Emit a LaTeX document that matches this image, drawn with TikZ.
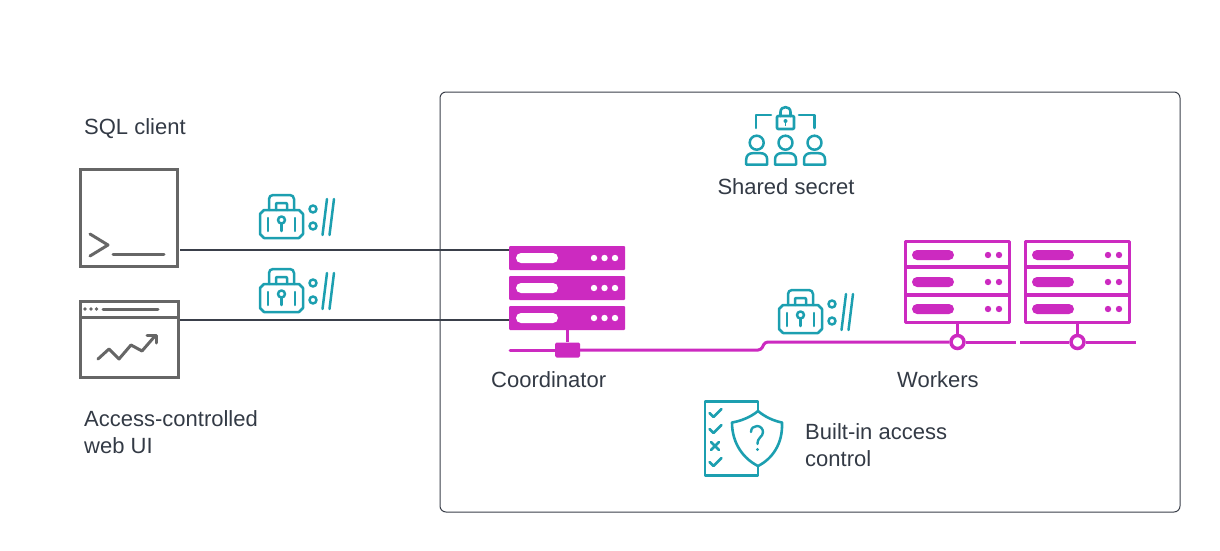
\documentclass[tikz,border=0pt]{standalone}
\usepackage{fontspec}
\setmainfont{Liberation Sans}
\usetikzlibrary{positioning,calc}
\definecolor{tealicon}{HTML}{1C9FB0}
\definecolor{magentaserver}{HTML}{CC2AC0}
\definecolor{greyicon}{HTML}{666666}
\definecolor{darkline}{HTML}{3A3F4A}
\definecolor{labeltext}{HTML}{333A45}

\tikzset{
lockline/.style={draw=tealicon,line width=2.5pt,line cap=round,line join=round},
pics/wirelock/.style={code={
\draw[lockline] (4,15) -- (39,15) -- (43,19) -- (43,39) -- (39,43) -- (4,43) -- (0,39) -- (0,19) -- cycle;
\draw[lockline,rounded corners=4pt] (9,15) -- (9,0) -- (34,0) -- (34,15);
\draw[lockline,rounded corners=1pt] (16,15) -- (16,8) -- (27,8) -- (27,15);
\draw[lockline] (8,23) -- (8,36);
\draw[lockline] (35,23) -- (35,36);
\draw[lockline] (21.5,25) circle (3.5);
\draw[lockline] (21.5,28.5) -- (21.5,36);
\draw[lockline] (53,14) circle (3.5);
\draw[lockline] (53,31) circle (3.5);
\draw[lockline] (62.5,40) -- (67,4);
\draw[lockline] (69.5,40) -- (74,4);
}},
pics/personicon/.style={code={
\draw[lockline] (0,0) circle (7);
\draw[lockline] (-10.5,22) -- (-10.5,17) .. controls (-10.5,12.5) and (-7.5,10.5) .. (-4,10.5) -- (4,10.5) .. controls (7.5,10.5) and (10.5,12.5) .. (10.5,17) -- (10.5,22) -- cycle;
}},
pics/coordslab/.style={code={
\node[fill=magentaserver,rounded corners=1pt,minimum width=116pt,minimum height=24pt,inner sep=0pt,outer sep=0pt] (-slab) at (0,0) {};
\fill[white,rounded corners=5pt] (-51,-5) rectangle (-9,5);
\fill[white] (27,0) circle (3.2) (37.5,0) circle (3.2) (48,0) circle (3.2);
}},
pics/workerrack/.style={code={
\draw[draw=magentaserver,line width=3.5pt,line join=round] (1.7,1.7) rectangle (105.3,82.3);
\draw[draw=magentaserver,line width=3.5pt] (1.7,27) -- (105.3,27) (1.7,55) -- (105.3,55);
\foreach \slaby in {15,42,69} {
\fill[magentaserver,rounded corners=5pt] (8,\slaby-5) rectangle (50,\slaby+5);
\fill[magentaserver] (84,\slaby) circle (3.2) (95,\slaby) circle (3.2);
}
}}
}

\begin{document}
\begin{tikzpicture}[x=1pt,y=-1pt,
textlabel/.style={font=\fontsize{22}{27}\selectfont,text=labeltext,inner sep=0pt,align=left},
greybox/.style={draw=greyicon,line width=3pt,inner sep=0pt,outer sep=1.5pt},
greystroke/.style={draw=greyicon,line width=3pt,line cap=round,line join=round},
tealstroke/.style={draw=tealicon,line width=2.6pt,line cap=round,line join=round},
clientline/.style={draw=darkline,line width=1.6pt},
busline/.style={draw=magentaserver,line width=3pt},
workerhub/.style={circle,draw=magentaserver,fill=white,line width=3.5pt,minimum size=13pt,inner sep=0pt}]

\useasboundingbox (0,0) rectangle (1220,551);
\node[draw=darkline,line width=1pt,rounded corners=6pt,minimum width=740pt,minimum height=420pt,inner sep=0pt] (cluster) at (810,302) {};

% clients
\node[textlabel,anchor=base west] (sqllabel) at (84,134) {SQL client};
\node[greybox,minimum width=97pt,minimum height=97pt] (sqlbox) at (129,218) {};
\draw[greystroke] (90,234) -- (108,245) -- (90,256);
\draw[greystroke] (113,254) -- (164,254);

\node[greybox,minimum width=98pt,minimum height=76pt] (webbox) at (129.5,339.5) {};
\draw[greybox] (80,317) -- (179,317);
\fill[greyicon] (85,309) circle (1.8) (91,309) circle (1.8) (96.5,309) circle (1.8);
\draw[greystroke] (103,309) -- (158,309);
\draw[greystroke] (98,359) -- (109,349) -- (119,359) -- (131,345) -- (142,351) -- (155,336);
\draw[greystroke] (147,335) -- (156,335) -- (156,343);
\node[textlabel,anchor=west] (weblabel) at (84,432.5) {Access-controlled\\web UI};

\pic at (260,195) {wirelock};
\pic at (260,269) {wirelock};

% coordinator
\pic (coordtop) at (567,258) {coordslab};
\pic (coordmid) at (567,288) {coordslab};
\pic (coordbot) at (567,318) {coordslab};
\coordinate (sqlport) at (180,250);
\coordinate (webport) at (180,320);
\draw[clientline] (sqlport) -- (sqlport -| coordtop-slab.west);
\draw[clientline] (webport) -- (webport -| coordbot-slab.west);

\coordinate (busstart) at (510,350);
\node[fill=magentaserver,rounded corners=1.5pt,minimum width=25pt,minimum height=15pt,inner sep=0pt] (coordhub) at (567.5,350) {};
\draw[draw=magentaserver,line width=3pt] (coordbot-slab.south -| coordhub) -- (coordhub);
\draw[busline,line cap=round] (busstart) -- (coordhub);
\node[textlabel,anchor=base west] (coordlabel) at (491,387) {Coordinator};

% workers
\pic at (904,240) {workerrack};
\pic at (1024,240) {workerrack};
\node[workerhub] (workerone) at (957.5,342) {};
\node[workerhub] (workertwo) at (1077.5,342) {};
\coordinate (busleft) at (900,342);
\coordinate (busmid) at (1016,342);
\coordinate (busnext) at (1020,342);
\coordinate (busright) at (1136,342);
\draw[busline,rounded corners=3pt] (coordhub) -- (761,350) -- (765,342) -- (workerone);
\draw[busline] (workerone) -- (busmid);
\draw[busline] (busnext) -- (workertwo);
\draw[busline] (workertwo) -- (busright);
\draw[draw=magentaserver,line width=3pt] (957.5,324) -- (workerone);
\draw[draw=magentaserver,line width=3pt] (1077.5,324) -- (workertwo);
\node[textlabel,anchor=base west] (workerlabel) at (897,387) {Workers};
\pic at (779,290) {wirelock};

% shared secret
\draw[tealstroke] (756,128) -- (756,115) -- (771,115);
\draw[tealstroke] (799,115) -- (814.5,115) -- (814.5,128);
\draw[tealstroke,rounded corners=1pt] (777,116) rectangle (794,129);
\draw[tealstroke] (780.5,116) -- (780.5,112) .. controls (780.5,105.5) and (790.5,105.5) .. (790.5,112) -- (790.5,116);
\fill[tealicon] (785.5,121) circle (2);
\draw[tealicon,line width=1.5pt] (785.5,121) -- (785.5,126);
\pic at (756.7,142.7) {personicon};
\pic at (785.5,142.7) {personicon};
\pic at (814.5,142.7) {personicon};
\node[textlabel] (secretlabel) at (786,187) {Shared secret};

% access control
\draw[tealstroke,line cap=butt] (758,411) -- (758,401.5) -- (705,401.5) -- (705,475.5) -- (758,475.5) -- (758,466);
\draw[tealstroke] (758,411) .. controls (765,417) and (774,421) .. (782,422.5) .. controls (783,444) and (772,459) .. (758,466) .. controls (744,459) and (732,444) .. (732,422.5) .. controls (741,421) and (751,417) .. (758,411) -- cycle;
\draw[tealstroke,line width=2.4pt] (751,432) .. controls (751,428) and (754,426) .. (757,426) .. controls (760.5,426) and (763,429) .. (763,432) .. controls (763,437) and (757.5,437) .. (757.5,444);
\fill[tealicon] (757.5,449.5) circle (1.6);
\draw[tealstroke] (709.5,413) -- (713.5,417) -- (721.5,409);
\draw[tealstroke] (709.5,429) -- (713.5,433) -- (721.5,425);
\draw[tealstroke] (711,442) -- (719,450) (719,442) -- (711,450);
\draw[tealstroke] (709.5,462) -- (713.5,466) -- (721.5,458);
\node[textlabel,anchor=west] (accesslabel) at (805,445.5) {Built-in access\\control};
\end{tikzpicture}
\end{document}
